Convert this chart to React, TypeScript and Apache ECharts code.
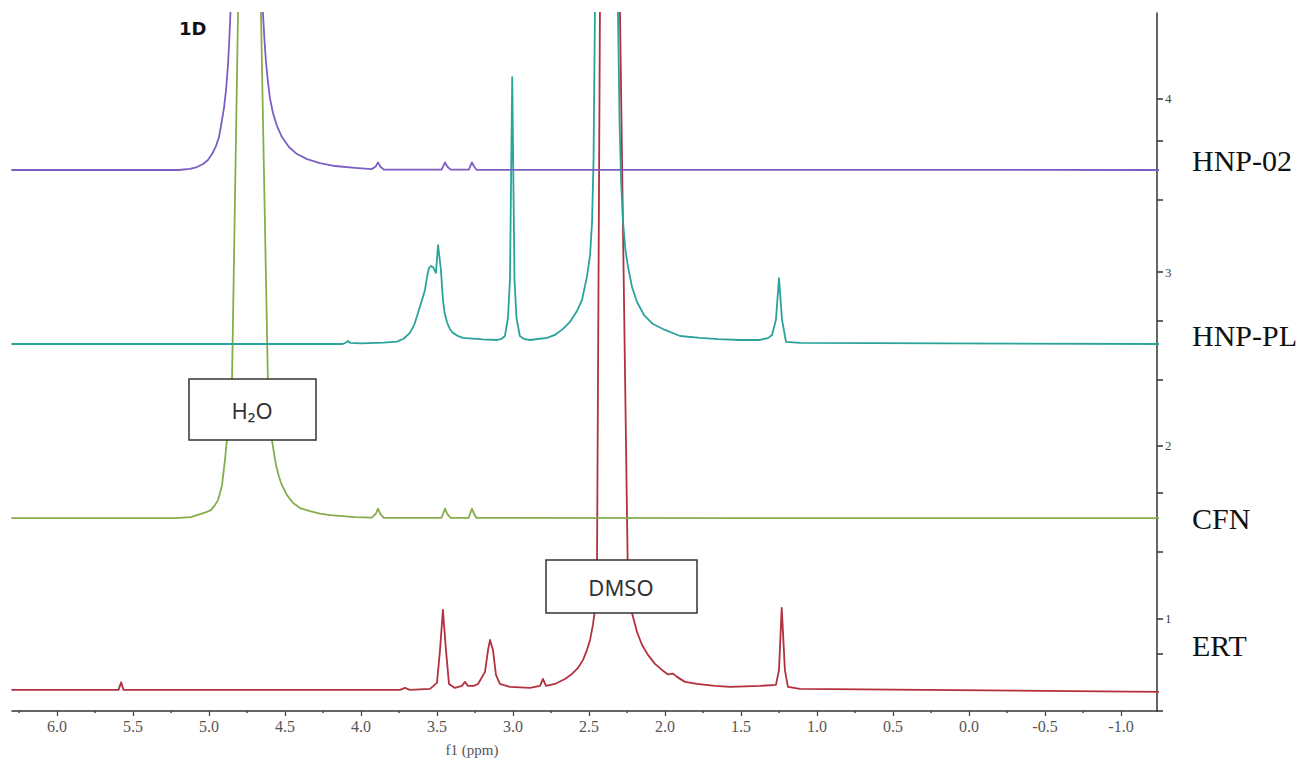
import React, { useEffect, useRef } from "react";
import * as echarts from "echarts";

// Spectrum names, bottom to top
const SERIES_NAMES = ["ERT", "CFN", "HNP-PL", "HNP-02"];
// Vertical offset (right-axis units) of each spectrum's baseline
const BASELINES = [0.583, 1.58, 2.585, 3.589];
const COLORS = ["#b3303f", "#86ad4a", "#2aa39b", "#7d5ec4"];

const X_TICK_LABELS = [6.0, 5.5, 5.0, 4.5, 4.0, 3.5, 3.0, 2.5, 2.0, 1.5, 1.0, 0.5, 0.0, -0.5, -1.0];
const X_MINOR_TICKS = [6.25, 5.75, 5.25, 4.75, 4.25, 3.75, 3.25, 2.75, 2.25, 1.75, 1.25, 0.75, 0.25, -0.25, -0.75, -1.25];
const Y_TICK_LABELS = [1, 2, 3, 4];
const Y_BRACKET_TICKS = [0.467, 0.8, 1.385, 1.725, 2.38, 2.72, 3.42, 3.76];

// [ppm, intensity above its own baseline]
const HNP02: [number, number][] = [
  [6.3, 0], [5.2, 0], [5.125, 0.006], [5.079, 0.017], [5.039, 0.035], [5.007, 0.058],
  [4.98, 0.092], [4.954, 0.138], [4.934, 0.19], [4.914, 0.29], [4.901, 0.36], [4.888, 0.46],
  [4.875, 0.606], [4.865, 0.779], [4.859, 0.906],
  [4.745, 2.6],
  [4.645, 0.906], [4.635, 0.75], [4.625, 0.623], [4.612, 0.508], [4.599, 0.415], [4.579, 0.329],
  [4.553, 0.254], [4.52, 0.19], [4.474, 0.133], [4.421, 0.092], [4.355, 0.063], [4.27, 0.04],
  [4.171, 0.023], [4.039, 0.012], [3.93, 0.005],
  [3.903, 0.02], [3.888, 0.044], [3.873, 0.02], [3.85, 0.002],
  [3.47, 0.002], [3.46, 0.02], [3.447, 0.044], [3.433, 0.02], [3.41, 0.002],
  [3.29, 0.002], [3.282, 0.02], [3.27, 0.044], [3.256, 0.02], [3.24, 0.001],
  [-1.25, 0],
];

const HNPPL: [number, number][] = [
  [6.3, 0], [4.12, 0], [4.095, 0.01], [4.085, 0.018], [4.072, 0.006], [4.0, 0.004], [3.85, 0.008],
  [3.763, 0.014], [3.72, 0.03], [3.678, 0.064], [3.65, 0.11], [3.625, 0.179], [3.6, 0.25],
  [3.579, 0.312], [3.565, 0.39], [3.553, 0.438], [3.54, 0.45], [3.526, 0.444], [3.507, 0.41],
  [3.493, 0.571], [3.474, 0.427], [3.461, 0.254], [3.45, 0.18], [3.434, 0.125], [3.415, 0.085],
  [3.395, 0.064], [3.36, 0.045], [3.329, 0.035], [3.2, 0.026], [3.105, 0.023], [3.075, 0.03],
  [3.053, 0.046], [3.033, 0.15], [3.02, 0.37], [3.005, 1.54], [2.99, 0.37], [2.977, 0.15],
  [2.955, 0.046], [2.93, 0.03], [2.888, 0.023],
  [2.776, 0.035], [2.724, 0.052], [2.671, 0.087], [2.625, 0.127], [2.579, 0.19], [2.546, 0.254],
  [2.513, 0.39], [2.493, 0.513], [2.48, 0.7], [2.47, 1.06], [2.461, 1.91],
  [2.388, 3.2],
  [2.309, 1.91], [2.299, 1.29], [2.289, 0.946], [2.276, 0.704], [2.26, 0.542], [2.243, 0.444],
  [2.217, 0.329], [2.184, 0.242], [2.138, 0.167], [2.079, 0.115], [2.0, 0.081], [1.901, 0.046],
  [1.77, 0.035], [1.65, 0.028], [1.507, 0.023], [1.375, 0.023], [1.32, 0.035], [1.296, 0.052],
  [1.27, 0.14], [1.25, 0.38], [1.23, 0.14], [1.204, 0.012], [1.112, 0.006], [-1.25, 0],
];

const CFN: [number, number][] = [
  [6.3, 0], [5.224, 0], [5.118, 0.006], [5.059, 0.023], [5.026, 0.032], [4.987, 0.046],
  [4.961, 0.075], [4.941, 0.104], [4.928, 0.144], [4.914, 0.19], [4.905, 0.26], [4.895, 0.335],
  [4.882, 0.45], [4.849, 0.773], [4.809, 2.914],
  [4.737, 4.6],
  [4.658, 2.914], [4.612, 0.773], [4.586, 0.45], [4.559, 0.306], [4.539, 0.237], [4.52, 0.19],
  [4.487, 0.133], [4.447, 0.087], [4.401, 0.058], [4.336, 0.04], [4.27, 0.026], [4.204, 0.017],
  [4.039, 0.006], [3.93, 0.003],
  [3.903, 0.025], [3.888, 0.055], [3.873, 0.025], [3.85, 0.002],
  [3.47, 0.002], [3.46, 0.025], [3.447, 0.055], [3.433, 0.025], [3.41, 0.002],
  [3.29, 0.002], [3.282, 0.025], [3.27, 0.055], [3.256, 0.025], [3.24, 0.001],
  [-1.25, 0],
];

const ERT: [number, number][] = [
  [6.3, 0.006], [5.595, 0.006], [5.578, 0.05], [5.562, 0.006],
  [3.743, 0.006], [3.711, 0.017], [3.678, 0.006], [3.546, 0.012], [3.5, 0.046], [3.48, 0.237],
  [3.461, 0.467], [3.441, 0.237], [3.421, 0.04], [3.382, 0.017], [3.336, 0.029], [3.316, 0.052],
  [3.296, 0.029], [3.257, 0.029], [3.23, 0.04], [3.184, 0.11], [3.164, 0.237], [3.151, 0.294],
  [3.132, 0.237], [3.112, 0.092], [3.086, 0.04], [3.02, 0.023], [2.888, 0.017], [2.822, 0.029],
  [2.803, 0.069], [2.783, 0.029], [2.724, 0.04], [2.658, 0.069], [2.612, 0.098], [2.572, 0.133],
  [2.539, 0.179], [2.513, 0.237], [2.493, 0.294], [2.474, 0.381], [2.461, 0.467], [2.447, 0.756],
  [2.428, 3.91],
  [2.362, 5.6],
  [2.296, 3.91], [2.243, 0.583], [2.217, 0.45], [2.184, 0.34], [2.151, 0.265], [2.112, 0.208],
  [2.066, 0.156], [2.02, 0.121], [1.98, 0.095], [1.947, 0.1], [1.921, 0.081], [1.868, 0.052],
  [1.789, 0.04], [1.671, 0.029], [1.572, 0.023], [1.375, 0.029], [1.27, 0.035], [1.25, 0.12],
  [1.232, 0.479], [1.211, 0.12], [1.191, 0.023], [1.112, 0.012], [-1.25, -0.006],
];

const SPECTRA = [ERT, CFN, HNPPL, HNP02];

export default function App() {
  const ref = useRef<HTMLDivElement>(null);
  useEffect(() => {
    if (!ref.current) return;
    const chart = echarts.init(ref.current, null, { renderer: "svg" });
    const series = SPECTRA.map((pts, i) => ({
      name: SERIES_NAMES[i],
      type: "line",
      xAxisIndex: 0,
      yAxisIndex: 0,
      data: pts.map(([p, v]) => [p, v + BASELINES[i]]),
      showSymbol: false,
      symbol: "none",
      clip: true,
      smooth: false,
      lineStyle: { color: COLORS[i], width: 1.8, join: "round" },
      z: 2 + i,
    })).reverse();
    const serif = "'Liberation Serif', 'Times New Roman', serif";
    chart.setOption({
      animation: false,
      backgroundColor: "#ffffff",
      grid: { left: 12, right: 158, top: 13, bottom: 53, containLabel: false },
      xAxis: [
        {
          type: "value",
          min: -1.237,
          max: 6.296,
          inverse: true,
          position: "bottom",
          axisLine: { show: true, onZero: false, lineStyle: { color: "#333", width: 1.5 } },
          axisTick: { show: true, customValues: X_TICK_LABELS, length: 5, lineStyle: { color: "#444", width: 1.2 } },
          axisLabel: {
            show: true,
            customValues: X_TICK_LABELS,
            formatter: (v: number) => v.toFixed(1),
            fontFamily: serif,
            fontSize: 16,
            color: "#555",
            margin: 7,
          },
          splitLine: { show: false },
        },
        {
          type: "value",
          min: -1.237,
          max: 6.296,
          inverse: true,
          position: "bottom",
          axisLine: { show: false, onZero: false },
          axisTick: { show: true, customValues: X_MINOR_TICKS, length: 2, lineStyle: { color: "#444", width: 1.5 } },
          axisLabel: { show: false },
          splitLine: { show: false },
        },
      ],
      yAxis: {
        type: "value",
        position: "right",
        min: 0.467,
        max: 4.495,
        axisLine: { show: true, onZero: false, lineStyle: { color: "#333", width: 1.5 } },
        axisTick: {
          show: true,
          inside: false,
          customValues: [...Y_TICK_LABELS, ...Y_BRACKET_TICKS],
          length: 6,
          lineStyle: { color: "#333", width: 1.5 },
        },
        axisLabel: {
          show: true,
          inside: false,
          customValues: Y_TICK_LABELS,
          fontFamily: serif,
          fontSize: 13,
          color: "#444",
          margin: 8,
        },
        splitLine: { show: false },
      },
      series,
      graphic: [
        {
          type: "text",
          left: 179,
          top: 19,
          style: { text: "1D", font: "900 18px 'DejaVu Sans', sans-serif", fill: "#111" },
          z: 10,
        },
        {
          type: "text",
          x: 472,
          y: 750,
          style: {
            text: "f1 (ppm)",
            font: "15px 'Liberation Serif', serif",
            fill: "#555",
            align: "center",
            verticalAlign: "middle",
          },
          z: 10,
        },
        ...SERIES_NAMES.map((n, i) => ({
          type: "text",
          x: 1192,
          y: [645, 518, 335, 160][i],
          style: {
            text: n,
            font: "30px 'Liberation Serif', serif",
            fill: "#111",
            align: "left",
            verticalAlign: "middle",
          },
          z: 10,
        })),
        {
          type: "group",
          z: 20,
          children: [
            {
              type: "rect",
              shape: { x: 189, y: 379, width: 127, height: 61 },
              style: { fill: "#fff", stroke: "#333", lineWidth: 1.5 },
              z: 20,
            },
            {
              type: "text",
              x: 252,
              y: 410,
              style: {
                text: "H₂O",
                font: "22px 'Noto Sans', sans-serif",
                fill: "#333",
                align: "center",
                verticalAlign: "middle",
              },
              z: 21,
            },
            {
              type: "rect",
              shape: { x: 546, y: 560, width: 151, height: 53 },
              style: { fill: "#fff", stroke: "#333", lineWidth: 1.5 },
              z: 20,
            },
            {
              type: "text",
              x: 621,
              y: 587,
              style: {
                text: "DMSO",
                font: "22px 'Noto Sans', sans-serif",
                fill: "#333",
                align: "center",
                verticalAlign: "middle",
              },
              z: 21,
            },
          ],
        },
      ],
    });
    return () => chart.dispose();
  }, []);
  return <div ref={ref} style={{ width: 1315, height: 764, position: "absolute", left: 0, top: 0, background: "#fff" }} />;
}
